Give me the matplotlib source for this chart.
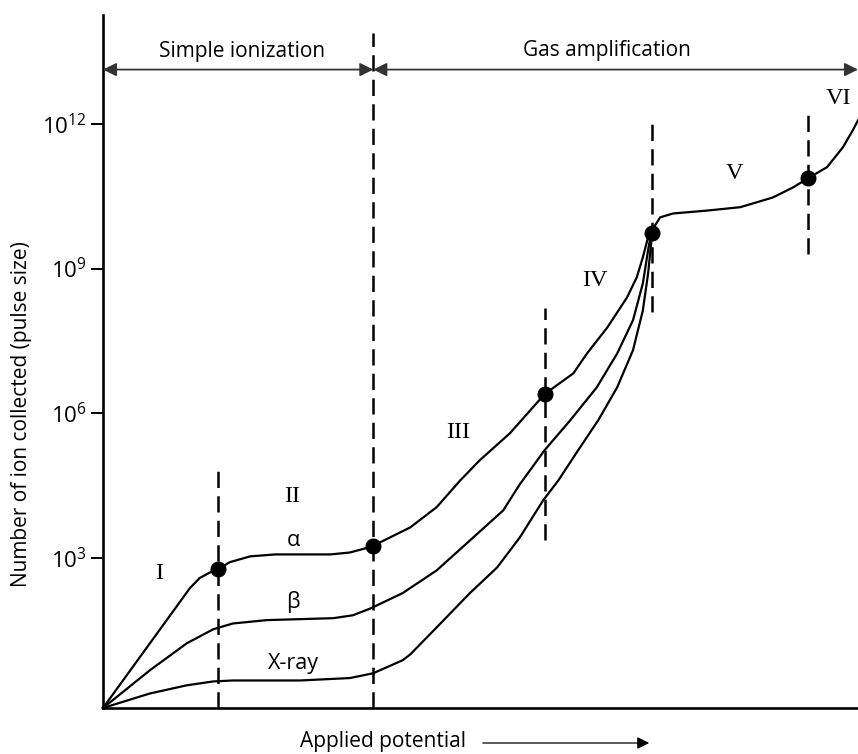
import numpy as np
import matplotlib
matplotlib.use("Agg")
import matplotlib.pyplot as plt

plt.rcParams['font.family'] = ['Open Sans', 'DejaVu Sans']
plt.rcParams['mathtext.fontset'] = 'custom'
plt.rcParams['mathtext.rm'] = 'Open Sans'

# applied potential (arbitrary units, 0..100) and log10(number of ions)
alpha_x = [0, 11.5, 12.8, 14.2, 15.2, 16.8, 19.5, 22.8, 26.1, 30.1, 32.7, 35.8, 36.7, 40.7,
           44.2, 47.3, 49.9, 53.9, 58.5, 62.3, 64.1, 66.8, 69.4, 70.7, 71.5, 72.2, 72.7,
           73.8, 75.5, 80.0, 84.4, 88.7, 91.4, 93.4, 95.9, 98.0, 99.3, 100.0]
alpha_y = [-0.1, 2.38, 2.59, 2.71, 2.77, 2.92, 3.04, 3.08, 3.08, 3.08, 3.12, 3.25, 3.33, 3.64,
           4.06, 4.61, 5.03, 5.59, 6.40, 6.83, 7.24, 7.78, 8.40, 8.82, 9.23, 9.65, 9.79,
           10.06, 10.14, 10.20, 10.27, 10.47, 10.68, 10.87, 11.10, 11.51, 11.86, 12.07]

beta_x = [0, 6.2, 11.1, 14.6, 17.2, 21.7, 26.1, 30.5, 33.1, 35.4, 39.7, 44.2, 48.6, 53.0,
          55.2, 58.5, 61.9, 65.4, 68.1, 70.2, 71.5, 72.2, 72.6]
beta_y = [-0.1, 0.68, 1.24, 1.53, 1.65, 1.72, 1.74, 1.76, 1.82, 1.96, 2.28, 2.75, 3.37, 3.99,
          4.53, 5.24, 5.86, 6.54, 7.24, 7.93, 8.69, 9.38, 9.73]

xray_x = [0, 6.2, 11.1, 14.6, 17.2, 26.1, 32.7, 35.8, 39.7, 40.7, 44.2, 48.6, 52.2, 55.2,
          58.3, 60.3, 63.2, 65.6, 68.1, 70.2, 71.5, 72.2, 72.6, 72.7]
xray_y = [-0.1, 0.20, 0.37, 0.45, 0.47, 0.47, 0.52, 0.62, 0.89, 1.01, 1.57, 2.28, 2.81, 3.43,
          4.20, 4.61, 5.30, 5.86, 6.54, 7.31, 8.13, 8.90, 9.52, 9.73]

# region boundary points
dot_x = [15.2, 35.8, 58.5, 72.7, 93.4]
dot_y = [2.77, 3.25, 6.40, 9.73, 10.87]

# dashed boundaries: x, bottom, top
bound_x = [15.2, 35.8, 58.5, 72.7, 93.4]
bound_lo = [-0.1, -0.1, 3.37, 8.09, 9.31]
bound_hi = [4.97, 13.87, 8.18, 12.13, 12.32]

region_names = ['I', 'II', 'III', 'IV', 'V', 'VI']
region_x = [7.4, 25.0, 47.0, 65.2, 83.7, 97.4]
region_y = [2.69, 4.28, 5.61, 8.76, 10.97, 12.52]

radiation_names = ['α', 'β', 'X-ray']
radiation_x = [25.2, 25.2, 25.2]
radiation_y = [3.37, 2.09, 0.83]

ticks = [3, 6, 9, 12]

fig = plt.figure(figsize=(8.58, 7.54), dpi=100)
ax = fig.add_axes([103 / 858, 46 / 754, 755 / 858, 693 / 754])
ax.set_xlim(0, 100)
ax.set_ylim(-0.1, 14.25)

for xs, ys in [(alpha_x, alpha_y), (beta_x, beta_y), (xray_x, xray_y)]:
    ax.plot(xs, ys, color='black', lw=1.6, solid_joinstyle='round', clip_on=False)

for bx, lo, hi in zip(bound_x, bound_lo, bound_hi):
    ax.plot([bx, bx], [lo, hi], color='black', lw=1.8, ls=(0, (6.5, 3.3)))

ax.plot(dot_x, dot_y, 'o', color='black', ms=10.5, zorder=5, clip_on=False)

for name, x, y in zip(region_names, region_x, region_y):
    ax.text(x, y, name, ha='center', va='center', fontsize=17.5, family='Liberation Serif')
for name, x, y in zip(radiation_names, radiation_x, radiation_y):
    ax.text(x, y, name, ha='center', va='center', fontsize=15.5)

# region arrows at the top
arr_y = 13.12
ax.annotate('', xy=(0, arr_y), xytext=(35.8, arr_y),
            arrowprops=dict(arrowstyle='<|-|>', color='#333333', lw=1.3,
                            mutation_scale=20, shrinkA=0, shrinkB=0), annotation_clip=False)
ax.annotate('', xy=(35.8, arr_y), xytext=(100, arr_y),
            arrowprops=dict(arrowstyle='<|-|>', color='#333333', lw=1.3,
                            mutation_scale=20, shrinkA=0, shrinkB=0), annotation_clip=False)
ax.text(18.4, 13.5, 'Simple ionization', ha='center', va='center', fontsize=15)
ax.text(66.8, 13.52, 'Gas amplification', ha='center', va='center', fontsize=15)

ax.set_yticks(ticks)
ax.set_yticklabels([r'$\mathregular{10^{%d}}$' % t for t in ticks], fontsize=16)
ax.set_xticks([])
ax.tick_params(axis='y', length=9, width=1.4, pad=3)
for s in ['top', 'right']:
    ax.spines[s].set_visible(False)
for s in ['left', 'bottom']:
    ax.spines[s].set_linewidth(1.9)

fig.text(22 / 858, 1 - 414 / 754, 'Number of ion collected (pulse size)', rotation=90,
         ha='center', va='center', fontsize=15)
fig.text(383 / 858, 1 - 742 / 754, 'Applied potential', ha='center', va='center', fontsize=15)
fig.add_artist(matplotlib.patches.FancyArrowPatch((480 / 858, 1 - 743 / 754), (652 / 858, 1 - 743 / 754),
                                                  transform=fig.transFigure, arrowstyle='-|>',
                                                  mutation_scale=18, color='black', lw=0.9))

fig.savefig('out.png', dpi=100)
